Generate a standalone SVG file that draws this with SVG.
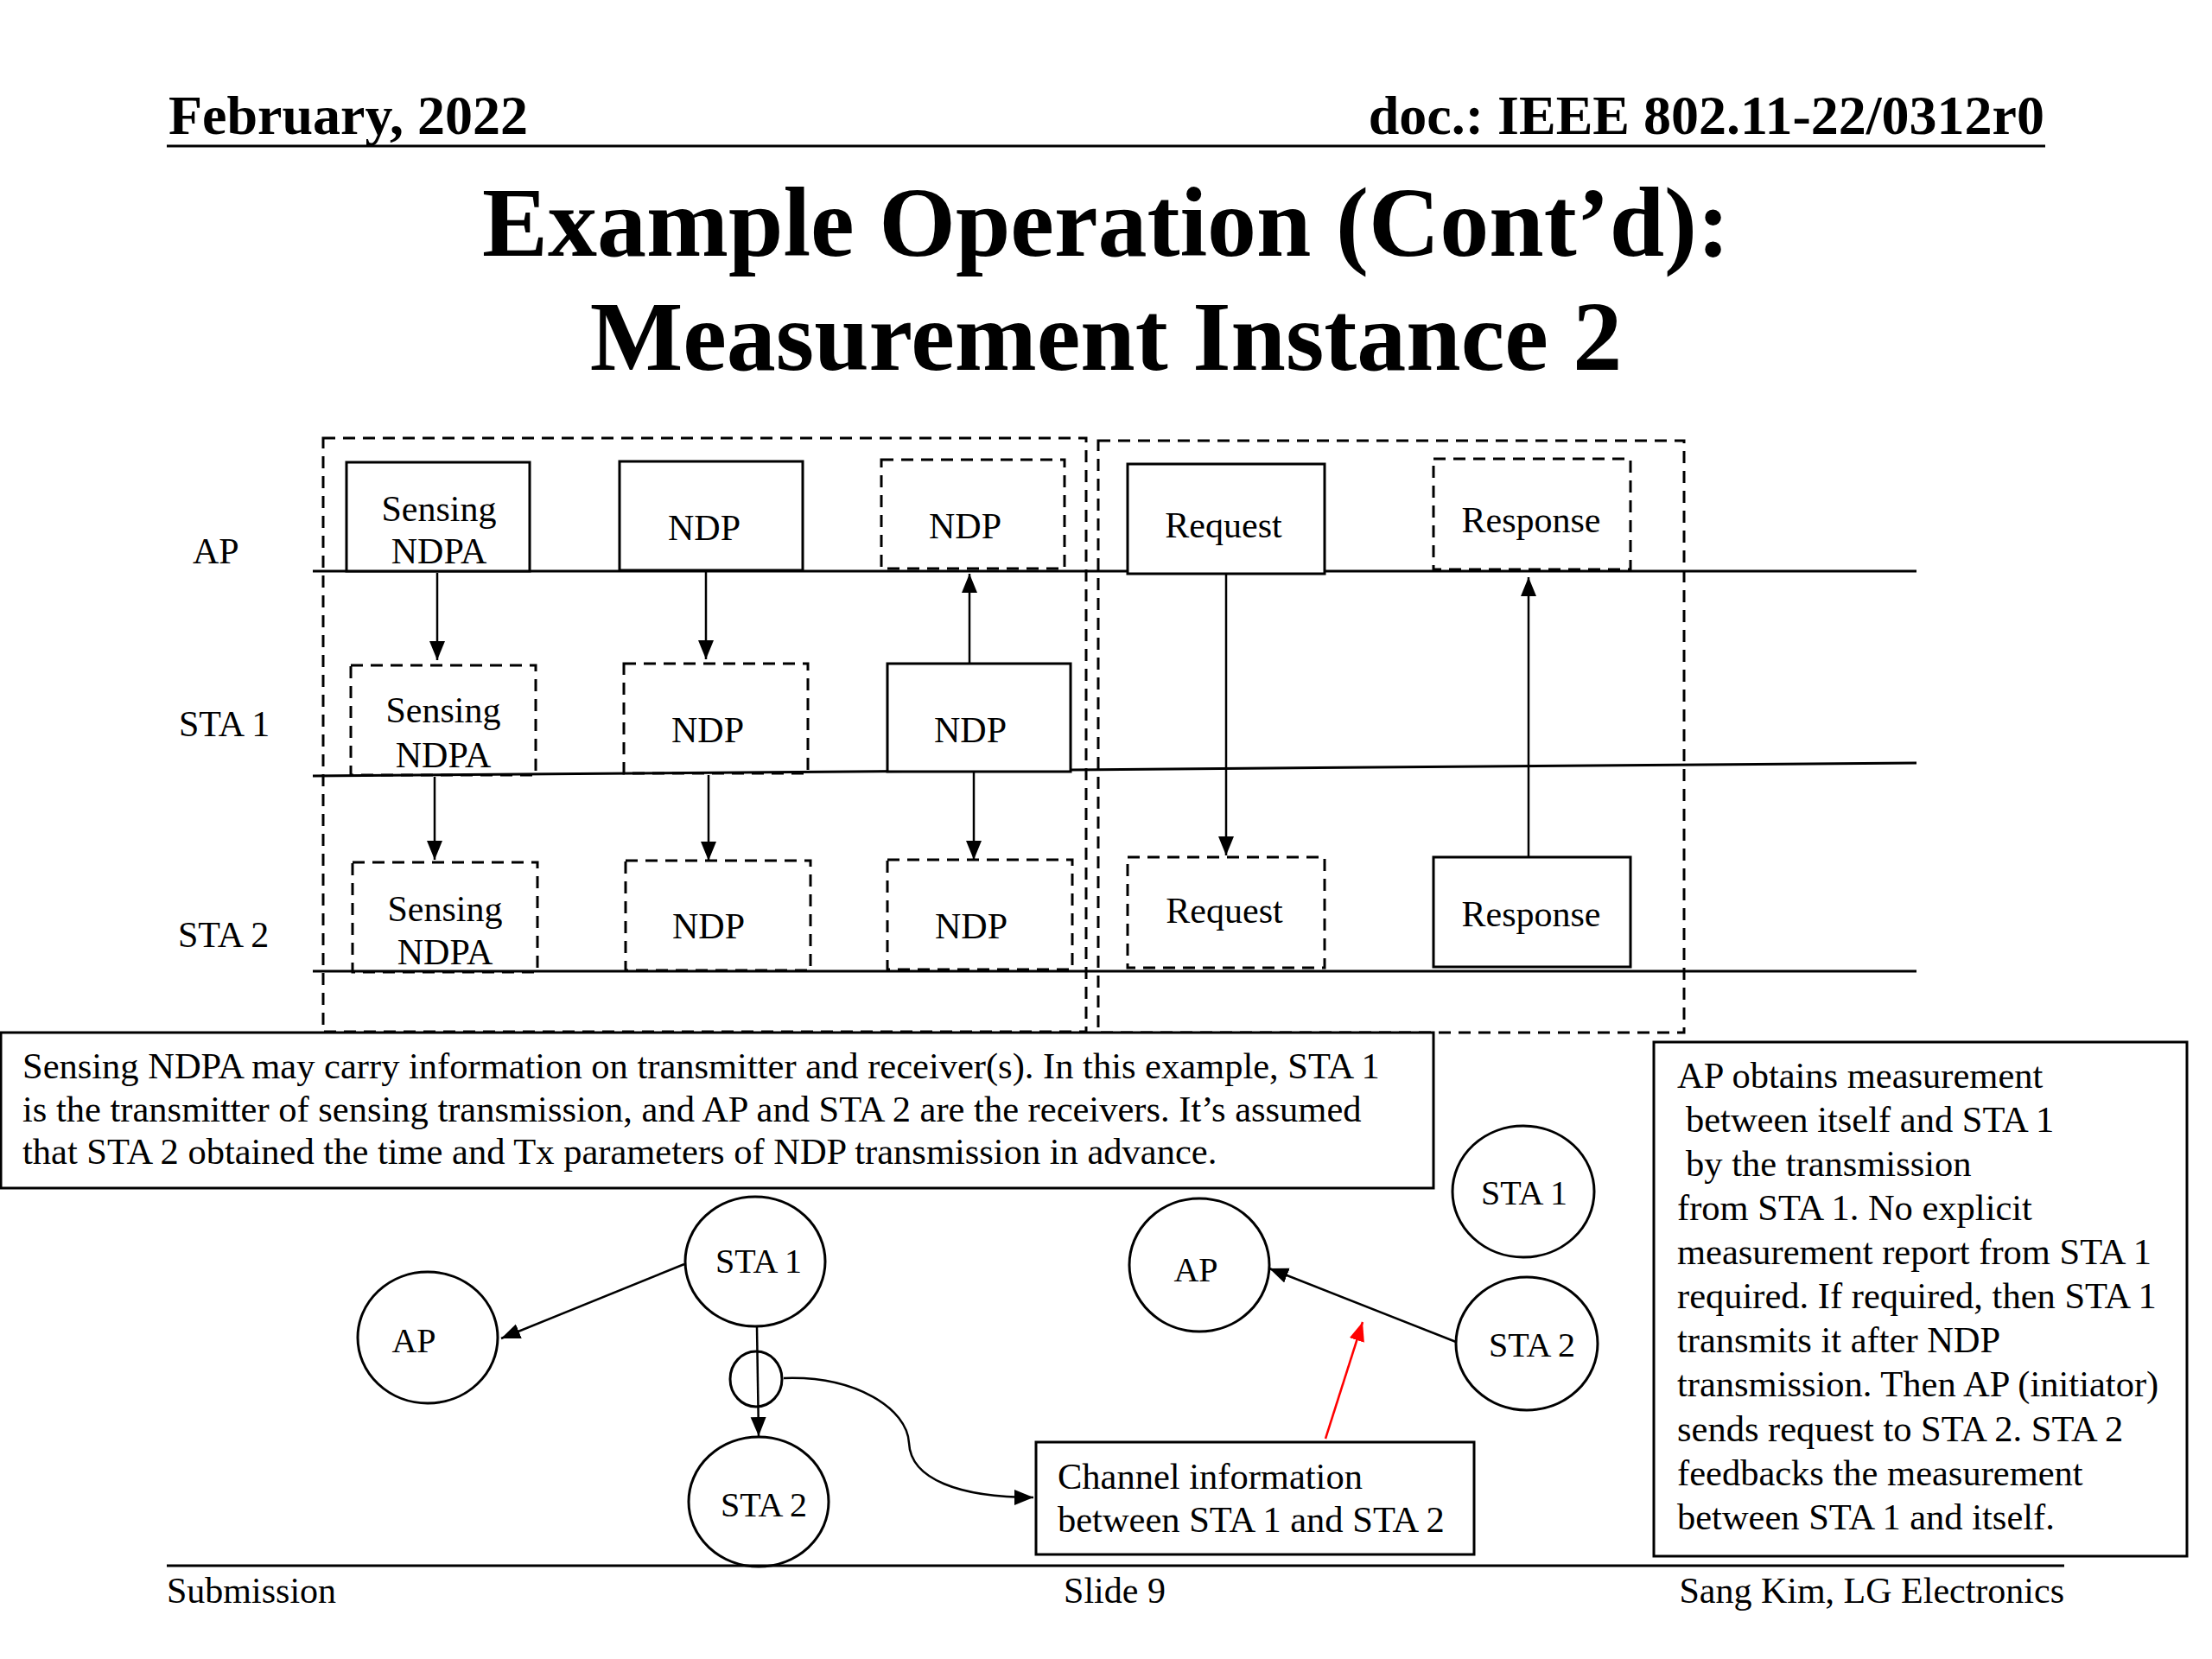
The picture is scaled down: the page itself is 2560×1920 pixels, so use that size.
<svg xmlns="http://www.w3.org/2000/svg" width="2560" height="1920" viewBox="0 0 2560 1920">
<style>
text{font-family:"Liberation Serif","Times New Roman",serif;fill:#000}
.hdr{font-size:64px;font-weight:bold}
.ttl{font-size:114px;font-weight:bold;text-anchor:middle}
.ftr{font-size:42px}
.lbl{font-size:42px}
.bx{font-size:42px;text-anchor:middle}
.cl{font-size:40px;text-anchor:middle}
.body{font-size:42.5px}
.solid{fill:#fff;stroke:#000;stroke-width:3}
.dash{fill:none;stroke:#000;stroke-width:3;stroke-dasharray:14 9}
.life{stroke:#000;stroke-width:3;fill:none}
.arr{stroke:#000;stroke-width:2.5;fill:none;marker-end:url(#ah)}
.ell{fill:#fff;stroke:#000;stroke-width:3}
</style>
<defs>
<marker id="ah" markerUnits="userSpaceOnUse" markerWidth="24" markerHeight="20" refX="22" refY="9" orient="auto">
<path d="M0,0 L22,9 L0,18 z" fill="#000"/>
</marker>
<marker id="ahr" markerUnits="userSpaceOnUse" markerWidth="24" markerHeight="20" refX="22" refY="9" orient="auto">
<path d="M0,0 L22,9 L0,18 z" fill="#f00"/>
</marker>
</defs>
<rect width="2560" height="1920" fill="#fff"/>

<g id="header">
<text class="hdr" x="195" y="155">February, 2022</text>
<text class="hdr" x="2366" y="155" text-anchor="end">doc.: IEEE 802.11-22/0312r0</text>
<line x1="193" y1="169" x2="2367" y2="169" stroke="#000" stroke-width="3"/>
<text class="ttl" x="1280" y="296">Example Operation (Cont’d):</text>
<text class="ttl" x="1280" y="428">Measurement Instance 2</text>
</g>

<g id="outer-boxes">
<rect class="dash" x="374" y="507" width="883" height="687"/>
<rect class="dash" x="1271" y="510" width="678" height="685"/>
</g>

<g id="lifelines">
<line class="life" x1="362" y1="661" x2="2218" y2="661"/>
<line class="life" x1="362" y1="898" x2="2218" y2="883"/>
<line class="life" x1="362" y1="1124" x2="2218" y2="1124"/>
<text class="lbl" x="223" y="652">AP</text>
<text class="lbl" x="207" y="852">STA 1</text>
<text class="lbl" x="206" y="1096">STA 2</text>
</g>

<g id="ap-sensing-ndpa"><rect class="solid" x="401" y="535" width="212" height="126"/><text class="bx" x="508" y="603">Sensing</text><text class="bx" x="508" y="652">NDPA</text></g>
<g id="ap-ndp-1"><rect class="solid" x="717" y="534" width="212" height="126"/><text class="bx" x="815" y="625">NDP</text></g>
<g id="ap-ndp-2"><rect class="dash" x="1020" y="532" width="212" height="126"/><text class="bx" x="1117" y="623">NDP</text></g>
<g id="sta1-sensing-ndpa"><rect class="dash" x="406" y="770" width="214" height="127"/><text class="bx" x="513" y="836">Sensing</text><text class="bx" x="513" y="888">NDPA</text></g>
<g id="sta1-ndp-1"><rect class="dash" x="722" y="768" width="213" height="127"/><text class="bx" x="819" y="859">NDP</text></g>
<g id="sta1-ndp-2"><rect class="solid" x="1027" y="768" width="212" height="125"/><text class="bx" x="1123" y="859">NDP</text></g>
<g id="sta2-sensing-ndpa"><rect class="dash" x="408" y="998" width="214" height="127"/><text class="bx" x="515" y="1066">Sensing</text><text class="bx" x="515" y="1116">NDPA</text></g>
<g id="sta2-ndp-1"><rect class="dash" x="724" y="996" width="214" height="127"/><text class="bx" x="820" y="1086">NDP</text></g>
<g id="sta2-ndp-2"><rect class="dash" x="1027" y="995" width="214" height="127"/><text class="bx" x="1124" y="1086">NDP</text></g>
<g id="ap-request"><rect class="solid" x="1305" y="537" width="228" height="127"/><text class="bx" x="1416" y="622">Request</text></g>
<g id="ap-response"><rect class="dash" x="1659" y="531" width="228" height="128"/><text class="bx" x="1772" y="616">Response</text></g>
<g id="sta2-request"><rect class="dash" x="1305" y="992" width="228" height="128"/><text class="bx" x="1417" y="1068">Request</text></g>
<g id="sta2-response"><rect class="solid" x="1659" y="992" width="228" height="127"/><text class="bx" x="1772" y="1072">Response</text></g>

<g id="connectors">
<line class="arr" x1="506" y1="663" x2="506" y2="764"/>
<line class="arr" x1="817" y1="662" x2="817" y2="763"/>
<line class="arr" x1="1122" y1="767" x2="1122" y2="664"/>
<line class="arr" x1="503" y1="899" x2="503" y2="995"/>
<line class="arr" x1="820" y1="897" x2="820" y2="996"/>
<line class="arr" x1="1127" y1="894" x2="1127" y2="995"/>
<line class="arr" x1="1419" y1="665" x2="1419" y2="990"/>
<line class="arr" x1="1769" y1="991" x2="1769" y2="668"/>
<line class="arr" x1="792" y1="1463" x2="580" y2="1549"/>
<line class="arr" x1="876" y1="1536" x2="878" y2="1662"/>
<path class="arr" d="M907,1595 C990,1592 1050,1630 1052,1670 C1054,1712 1110,1733 1196,1733"/>
<line class="arr" x1="1685" y1="1553" x2="1469" y2="1468"/>
<line x1="1534" y1="1665" x2="1577" y2="1530" stroke="#f00" stroke-width="2.5" marker-end="url(#ahr)"/>
</g>

<g id="note-left">
<rect class="solid" x="1" y="1195" width="1658" height="180"/>
<text class="body" x="26" y="1248">Sensing NDPA may carry information on transmitter and receiver(s). In this example, STA 1</text>
<text class="body" x="26" y="1298">is the transmitter of sensing transmission, and AP and STA 2 are the receivers. It’s assumed</text>
<text class="body" x="26" y="1347">that STA 2 obtained the time and Tx parameters of NDP transmission in advance.</text>
</g>

<g id="note-right">
<rect class="solid" x="1914" y="1206" width="617" height="595"/>
<text class="body" x="1941" y="1259">AP obtains measurement</text>
<text class="body" x="1951" y="1310">between itself and STA 1</text>
<text class="body" x="1951" y="1361">by the transmission</text>
<text class="body" x="1941" y="1412">from STA 1. No explicit</text>
<text class="body" x="1941" y="1463">measurement report from STA 1</text>
<text class="body" x="1941" y="1514">required. If required, then STA 1</text>
<text class="body" x="1941" y="1565">transmits it after NDP</text>
<text class="body" x="1941" y="1616">transmission. Then AP (initiator)</text>
<text class="body" x="1941" y="1668">sends request to STA 2. STA 2</text>
<text class="body" x="1941" y="1719">feedbacks the measurement</text>
<text class="body" x="1941" y="1770">between STA 1 and itself.</text>
</g>

<g id="c-ap-left"><ellipse class="ell" cx="495" cy="1548" rx="81" ry="76"/><text class="cl" x="479" y="1565">AP</text></g>
<g id="c-sta1-left"><ellipse class="ell" cx="874" cy="1460" rx="81" ry="75"/><text class="cl" x="878" y="1473">STA 1</text></g>
<g id="c-small"><ellipse cx="875" cy="1596" rx="30" ry="32" fill="none" stroke="#000" stroke-width="3"/></g>
<g id="c-sta2-left"><ellipse class="ell" cx="878" cy="1738" rx="81" ry="75"/><text class="cl" x="884" y="1755">STA 2</text></g>
<g id="c-ap-right"><ellipse class="ell" cx="1388" cy="1464" rx="81" ry="77"/><text class="cl" x="1384" y="1483">AP</text></g>
<g id="c-sta1-right"><ellipse class="ell" cx="1763" cy="1379" rx="82" ry="76"/><text class="cl" x="1764" y="1394">STA 1</text></g>
<g id="c-sta2-right"><ellipse class="ell" cx="1767" cy="1555" rx="82" ry="77"/><text class="cl" x="1773" y="1570">STA 2</text></g>
<g id="channel-info">
<rect class="solid" x="1199" y="1669" width="507" height="130"/>
<text class="body" x="1224" y="1723">Channel information</text>
<text class="body" x="1224" y="1773">between STA 1 and STA 2</text>
</g>

<g id="footer">
<line x1="193" y1="1812" x2="2389" y2="1812" stroke="#000" stroke-width="3"/>
<text class="ftr" x="193" y="1855">Submission</text>
<text class="ftr" x="1290" y="1855" text-anchor="middle">Slide 9</text>
<text class="ftr" x="2389" y="1855" text-anchor="end">Sang Kim, LG Electronics</text>
</g>
</svg>
